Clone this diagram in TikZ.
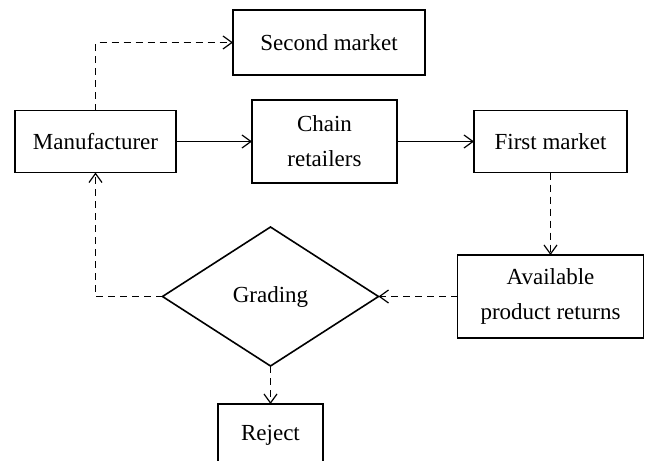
\documentclass[tikz,border=0pt]{standalone}
\usepackage{fontspec}
\setmainfont{Liberation Serif}
\usetikzlibrary{shapes.geometric,arrows.meta}
\begin{document}
\begin{tikzpicture}[x=1pt,y=-1pt,
  box/.style={draw,line width=1.6pt,inner sep=0pt,outer sep=0pt,align=center,font=\fontsize{23}{35}\selectfont},
  conn/.style={line width=1.2pt,-{Straight Barb[length=9pt,width=13pt,line width=1.2pt]}},
  dashconn/.style={conn,dash pattern=on 7pt off 5pt}]
\useasboundingbox (0,0) rectangle (646,461);
\clip (0,0) rectangle (646,461);
\node[box,minimum width=192pt,minimum height=65pt] (sec) at (329,42.5) {Second market};
\node[box,minimum width=161pt,minimum height=62pt] (man) at (95.5,141.5) {Manufacturer};
\node[box,minimum width=145pt,minimum height=83pt] (chain) at (324.5,141.5) {Chain\\retailers};
\node[box,minimum width=153pt,minimum height=62pt] (first) at (550.5,141.5) {First market};
\node[box,minimum width=186pt,minimum height=83pt] (avail) at (550.5,296.5) {Available\\product returns};
\node[box,shape=diamond,minimum width=216pt,minimum height=139pt] (dia) at (270.5,296.5) {Grading};
\node[box,minimum width=105pt,minimum height=62pt] (rej) at (270.5,435) {Reject};
\draw[dashconn] (man.north) |- (sec.west);
\draw[conn] (man.east) -- (chain.west);
\draw[conn] (chain.east) -- (first.west);
\draw[dashconn] (first.south) -- (avail.north);
\draw[dashconn] (avail.west) -- (dia.east);
\draw[dashconn] (dia.west) -| (man.south);
\draw[dashconn] (dia.south) -- (rej.north);
\end{tikzpicture}
\end{document}
